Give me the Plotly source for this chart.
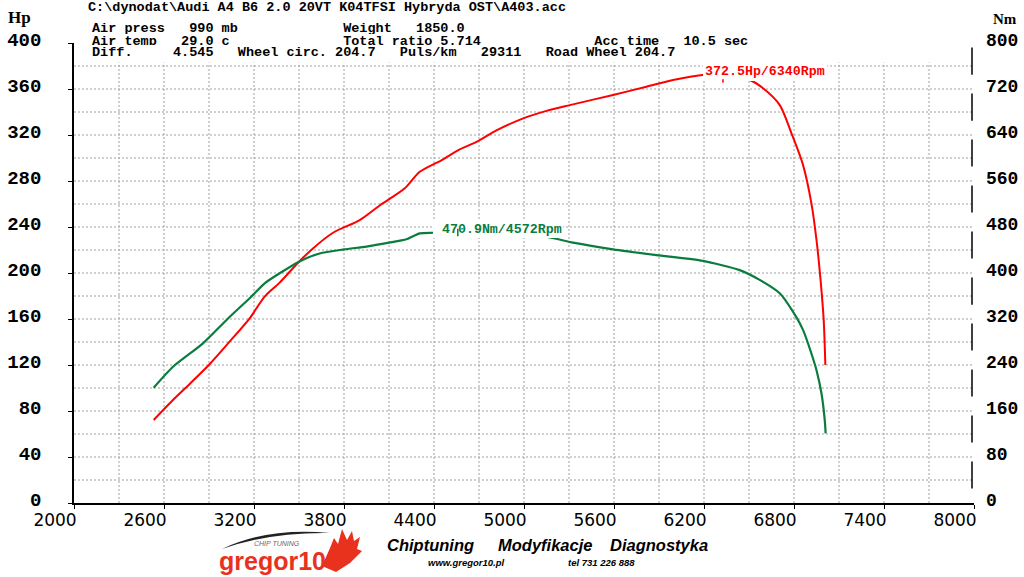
import plotly.graph_objects as go

# ---------------- data ----------------
rpm_power = [2531, 2660, 2771, 2905, 3027, 3171, 3271, 3371, 3500, 3593, 3727, 3905,
             4036, 4205, 4305, 4449, 4571, 4683, 4816, 4995, 5150, 5305, 5594, 5816,
             5993, 6189, 6340, 6505, 6594, 6705, 6783, 6860, 6916, 6950, 6977, 6998, 7009]
power_hp = [72.2, 89.6, 103.5, 120.9, 138.8, 160.6, 179.4, 191.6, 209.8, 221.4, 235.0, 246.0,
            258.5, 273.6, 288.0, 298.0, 307.5, 314.0, 324.0, 334.5, 341.0, 346.0, 354.8, 362.0,
            367.8, 372.2, 372.5, 367.8, 360.6, 346.0, 321.5, 294.0, 260.6, 228.7, 194.0, 159.0, 120.0]

rpm_torque = [2531, 2660, 2860, 3027, 3171, 3271, 3371, 3500, 3638, 3800, 3949, 4100,
              4216, 4305, 4394, 4572, 5145, 5327, 5594, 5883, 6193, 6438, 6571, 6705,
              6793, 6860, 6916, 6950, 6983, 7005, 7011]
torque_nm = [200.5, 237.0, 277.7, 321.0, 356.0, 382.0, 399.5, 419.7, 434.0, 441.0, 446.0, 452.7,
             458.6, 469.0, 470.0, 470.9, 463.0, 452.7, 441.0, 431.0, 421.0, 405.0, 388.0, 364.7,
             332.7, 301.0, 260.0, 231.0, 190.8, 144.0, 121.0]

peak_power_rpm, peak_power_val = 6340, 372.5
peak_torque_rpm, peak_torque_val = 4572, 470.9

x_ticks = list(range(2000, 8001, 600))
hp_ticks = list(range(0, 401, 40))
nm_ticks = list(range(0, 801, 80))

header_title = r"C:\dynodat\Audi A4 B6 2.0 20VT K04TFSI Hybryda OST\A403.acc"
header_line2 = "Air press   990 mb             Weight   1850.0"
header_line3 = "Air temp   29.0 c              Total ratio 5.714              Acc time   10.5 sec"
header_line4 = "Diff.     4.545   Wheel circ. 204.7   Puls/km   29311   Road Wheel 204.7"

RED = "#ff0000"
GREEN = "#0a7d3e"
MONO = "Liberation Mono"
GRID = "#a0a0a0"

# plot area in pixels
ML, MR, MT, MB = 74, 50, 43, 74
PW, PH = 1024 - ML - MR, 577 - MT - MB


def PX(x):
    return (x - ML) / PW


def PY(y):
    return (577 - MB - y) / PH


def nb(s):
    return s.replace(" ", "\u00a0")


fig = go.Figure()
fig.add_trace(go.Scatter(x=rpm_power, y=power_hp, mode="lines",
                         line=dict(color=RED, width=2, shape="spline", smoothing=0.8),
                         yaxis="y", hoverinfo="skip"))
fig.add_trace(go.Scatter(x=rpm_torque, y=torque_nm, mode="lines",
                         line=dict(color=GREEN, width=2.2, shape="spline", smoothing=0.6),
                         yaxis="y2", hoverinfo="skip"))

shapes = []
# dotted grid
for v in range(20, 400, 20):
    shapes.append(dict(type="line", xref="x", yref="y", x0=2000, x1=8035, y0=v, y1=v,
                       line=dict(color=GRID, width=1, dash="2px,2px"), layer="below"))
for r in range(2300, 8000, 300):
    shapes.append(dict(type="line", xref="x", yref="y", x0=r, x1=r, y0=0, y1=383,
                       line=dict(color=GRID, width=1, dash="2px,2px"), layer="below"))
# broken right axis
for v in nm_ticks[1:]:
    shapes.append(dict(type="line", xref="paper", yref="y2", x0=PX(972), x1=PX(972),
                       y0=v - 55, y1=v - 8, line=dict(color="black", width=1.5)))

# logo swoosh & flame (decoration, below the logo text)
shapes.append(dict(type="path", xref="paper", yref="paper", layer="below",
                   path=f"M {PX(222)},{PY(549)} Q {PX(268)},{PY(527)} {PX(330)},{PY(533)} "
                        f"Q {PX(270)},{PY(532)} {PX(222)},{PY(549)} Z",
                   fillcolor="#222222", line=dict(width=0)))
flame = [(322, 566), (330, 548), (334, 538), (338, 544), (342, 529), (347, 540),
         (352, 531), (354, 541), (360, 537), (357, 549), (362, 551), (350, 563), (336, 572)]
fp = "M " + " L ".join(f"{PX(a)},{PY(b)}" for a, b in flame) + " Z"
shapes.append(dict(type="path", xref="paper", yref="paper", path=fp, layer="below",
                   fillcolor="#e8321e", line=dict(width=0)))

ann = []


def txt(x, y, s, size, color="black", family=MONO, weight="normal", style="normal",
        xanchor="left", bg=None):
    d = dict(x=PX(x), y=PY(y), xref="paper", yref="paper", text=s, showarrow=False,
             xanchor=xanchor, yanchor="middle",
             font=dict(family=family, size=size, color=color, weight=weight, style=style),
             borderpad=0, borderwidth=0)
    if bg:
        d["bgcolor"] = bg
    ann.append(d)


txt(88, 7, nb(header_title), 13.5, weight="bold")
txt(92, 29, nb(header_line2), 13.5, weight="bold", bg="white")
txt(92, 41, nb(header_line3), 13.5, weight="bold", bg="white")
txt(92, 52, nb(header_line4), 13.5, weight="bold", bg="white")
txt(8, 18, "Hp", 17, family="Liberation Serif", weight="bold", xanchor="left")
txt(993, 19, "Nm", 15, family="Liberation Serif", weight="bold", xanchor="left")

# footer
txt(430, 545, "Chiptuning", 16.5, family="Liberation Sans", weight="bold", style="italic", xanchor="center")
txt(545, 545, "Modyfikacje", 16.5, family="Liberation Sans", weight="bold", style="italic", xanchor="center")
txt(659, 545, "Diagnostyka", 16.5, family="Liberation Sans", weight="bold", style="italic", xanchor="center")
txt(466, 562, "www.gregor10.pl", 9.5, family="Liberation Sans", weight="bold", style="italic", xanchor="center")
txt(601, 562, "tel 731 226 888", 9.5, family="Liberation Sans", weight="bold", style="italic", xanchor="center")
txt(277, 543, "CHIP TUNING", 7, color="#666666", family="Liberation Sans", style="italic", xanchor="center")
txt(272, 561, "gregor10", 25, color="#e8321e", family="Liberation Sans", weight="bold", xanchor="center")

# peak labels
ann.append(dict(x=peak_torque_rpm, y=peak_torque_val, xref="x", yref="y2",
                text=nb(f" {peak_torque_val}Nm/{peak_torque_rpm}Rpm"), showarrow=False,
                xanchor="left", yanchor="middle", xshift=-27, yshift=3,
                bgcolor="white", borderpad=1, borderwidth=0,
                font=dict(family=MONO, size=13.3, color=GREEN, weight="bold")))
ann.append(dict(x=peak_power_rpm, y=peak_power_val, xref="x", yref="y",
                text=f"{peak_power_val}Hp/{peak_power_rpm}Rpm", showarrow=False,
                xanchor="left", yanchor="middle", xshift=-22, yshift=3.5,
                bgcolor="white", borderpad=2, borderwidth=0,
                font=dict(family=MONO, size=13.3, color=RED, weight="bold")))
# peak markers
ann.append(dict(x=peak_torque_rpm, y=peak_torque_val, xref="x", yref="y2", text="",
                showarrow=True, arrowhead=0, arrowwidth=1.5, arrowcolor=GREEN,
                ax=0, ay=-9, yshift=-4, xshift=-2, standoff=0))
ann.append(dict(x=peak_power_rpm, y=peak_power_val, xref="x", yref="y", text="",
                showarrow=True, arrowhead=0, arrowwidth=1.5, arrowcolor=RED,
                ax=0, ay=-5, yshift=-8, xshift=-2, standoff=0))

fig.update_layout(
    width=1024, height=577,
    margin=dict(l=ML, r=MR, t=MT, b=MB, autoexpand=False),
    paper_bgcolor="white", plot_bgcolor="white",
    showlegend=False,
    xaxis=dict(range=[2000, 8000], tickvals=x_ticks, ticktext=[str(v) for v in x_ticks],
               showgrid=False, zeroline=False, showline=True, linecolor="black", linewidth=2,
               ticks="outside", ticklen=4, tickcolor="black", tickwidth=1,
               tickfont=dict(family="DejaVu Sans", size=17, color="black"),
               ticklabelshift=-19, ticklabelstandoff=-3),
    yaxis=dict(range=[0, 400], tickvals=hp_ticks, showgrid=False, zeroline=False,
               showline=True, linecolor="black", linewidth=1.5,
               ticks="outside", ticklen=4, tickcolor="black",
               tickfont=dict(family=MONO, size=19, color="black", weight="bold"),
               ticklabelstandoff=23, ticklabelshift=-4),
    yaxis2=dict(range=[0, 800], tickvals=nm_ticks, overlaying="y", side="right",
                showgrid=False, zeroline=False, showline=False, ticks="",
                tickfont=dict(family=MONO, size=18, color="black", weight="bold"),
                ticklabelstandoff=11, ticklabelshift=-3),
    shapes=shapes,
    annotations=ann,
)

fig.write_html("out.html")
